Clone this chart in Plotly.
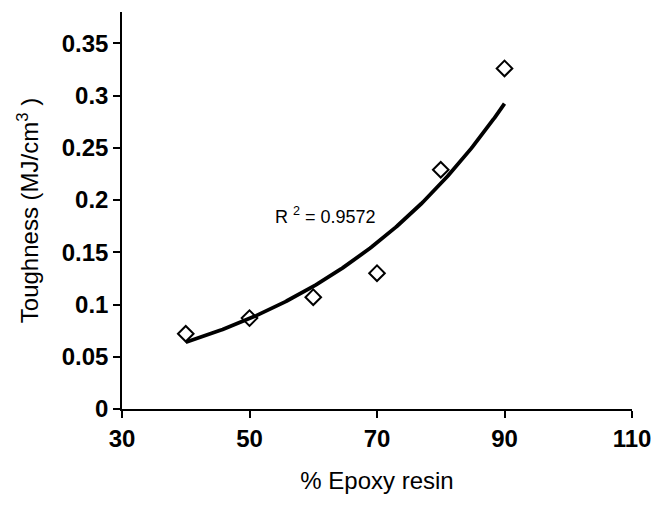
import numpy as np
import plotly.graph_objects as go

# Measured toughness vs. epoxy resin content
epoxy_pct = [40, 50, 60, 70, 80, 90]
toughness = [0.072, 0.087, 0.107, 0.130, 0.229, 0.326]

x_ticks = [30, 50, 70, 90, 110]
y_ticks = [0, 0.05, 0.1, 0.15, 0.2, 0.25, 0.3, 0.35]
y_tick_text = ["0", "0.05", "0.1", "0.15", "0.2", "0.25", "0.3", "0.35"]

# Exponential trendline y = a*exp(b*x), fitted on log values
x = np.array(epoxy_pct, dtype=float)
y = np.array(toughness, dtype=float)
b, ln_a = np.polyfit(x, np.log(y), 1)
x_fit = np.linspace(x.min(), x.max(), 200)
y_fit = np.exp(ln_a + b * x_fit)

FONT = "Arial, Liberation Sans, sans-serif"

fig = go.Figure()
fig.add_trace(go.Scatter(
    x=x_fit, y=y_fit, mode="lines",
    line=dict(color="black", width=3.8),
    hoverinfo="skip", showlegend=False,
))
fig.add_trace(go.Scatter(
    x=epoxy_pct, y=toughness, mode="markers",
    marker=dict(symbol="diamond-open", size=12, color="black",
                line=dict(color="black", width=2)),
    showlegend=False,
))

fig.add_annotation(
    x=61.9, y=0.185, xref="x", yref="y",
    text="R <sup>2</sup> = 0.9572",
    showarrow=False, xanchor="center", yanchor="middle",
    font=dict(family=FONT, size=18, color="black"),
)

axis_common = dict(
    showgrid=False, zeroline=False, showline=True, automargin=False,
    linecolor="black", linewidth=1.5,
    ticks="outside", ticklen=7, tickwidth=1.5, tickcolor="black",
    tickfont=dict(family=FONT, size=24, color="black", weight="bold"),
)

fig.update_xaxes(
    range=[30, 110], tickvals=x_ticks, ticktext=[str(v) for v in x_ticks],
    title=dict(text="% Epoxy resin", font=dict(family=FONT, size=24, color="black"),
               standoff=22),
    **axis_common,
)
fig.update_yaxes(
    range=[0, 0.38], tickvals=y_ticks, ticktext=y_tick_text,
    title=dict(text="Toughness (MJ/cm<sup>3</sup> )",
               font=dict(family=FONT, size=24, color="black"), standoff=16),
    **axis_common,
)

fig.update_layout(
    width=655, height=506,
    margin=dict(l=122, r=23, t=12, b=97),
    plot_bgcolor="white", paper_bgcolor="white",
)

fig.write_html("out.html")
